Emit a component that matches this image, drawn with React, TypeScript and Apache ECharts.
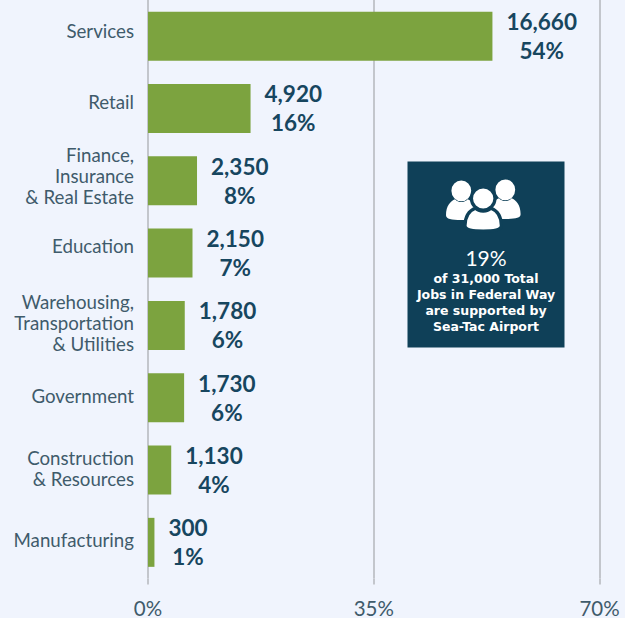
import React, { useEffect, useRef } from "react";
import * as echarts from "echarts";

const categories = [
  "Services",
  "Retail",
  "Finance,\nInsurance\n& Real Estate",
  "Education",
  "Warehousing,\nTransportation\n& Utilities",
  "Government",
  "Construction\n& Resources",
  "Manufacturing",
];
const labelLift = ["u5", "u6", "u5", "u7", "u2", "u2", "u2", "u2"];
const barShares = [53.4, 15.9, 7.6, 6.9, 5.7, 5.6, 3.6, 1.0];
const jobLabels = ["16,660", "4,920", "2,350", "2,150", "1,780", "1,730", "1,130", "300"];
const shareLabels = ["54%", "16%", "8%", "7%", "6%", "6%", "4%", "1%"];
const boxHeadline = "19%";
const boxLines = ["of 31,000 Total", "Jobs in Federal Way", "are supported by", "Sea-Tac Airport"];

const FONT = '"DejaVu Sans", sans-serif';
const LABEL_FONT = "Lato, sans-serif";
const DARK = "#17465f";
const BG = "#f0f4fd";
const LINE = "#c3c6cc";
const MUTED = "#3f5b6b";
const BOX = "#0f4058";

const PERSON =
  "M6 11a11 11 0 1 1 22 0a11 11 0 1 1 -22 0z M0 37C0 27 5 22 10 20C13 24 21 24 24 20C29 22 34 27 34 37C34 41 28 42 17 42C6 42 0 41 0 37Z";
echarts.graphic.registerShape("person", echarts.graphic.extendPath(PERSON, {}) as any);

const catText = { fontFamily: LABEL_FONT, fontSize: 18.7, lineHeight: 21, color: MUTED };
const spacer = (n: number) => ({ fontFamily: LABEL_FONT, fontSize: 1, lineHeight: n * 2, height: n * 2, color: MUTED });

export default function App() {
  const ref = useRef<HTMLDivElement>(null);
  useEffect(() => {
    const chart = echarts.init(ref.current!, null, { renderer: "svg" });
    const lineYs = [278, 294, 310, 326];
    chart.setOption({
      animation: false,
      backgroundColor: BG,
      grid: { left: 148, width: 451.5, top: -0.9, height: 579.5 },
      xAxis: {
        type: "value",
        min: 0,
        max: 70,
        interval: 35,
        axisLine: { show: false },
        axisTick: { show: true, length: 6, lineStyle: { color: LINE, width: 2 } },
        splitLine: { show: true, lineStyle: { color: LINE, width: 2 } },
        axisLabel: {
          margin: 20,
          fontFamily: LABEL_FONT,
          fontSize: 20.5,
          lineHeight: 18,
          color: MUTED,
          formatter: (v: number) => `${v}%`,
          showMinLabel: true,
          showMaxLabel: true,
          alignMinLabel: "center",
          alignMaxLabel: "center",
        },
      },
      yAxis: {
        type: "category",
        inverse: true,
        data: categories,
        axisLine: { show: false },
        axisTick: { show: false },
        splitLine: { show: false },
        axisLabel: {
          margin: 14,
          align: "right",
          interval: 0,
          ...catText,
          formatter: (v: string) => {
            const lift = labelLift[categories.indexOf(v)];
            const lines = v.split("\n").map((l) => `{n|${l}}`);
            return [...lines, `{${lift}| }`].join("\n");
          },
          rich: {
            n: catText,
            u2: spacer(2),
            u5: spacer(5),
            u6: spacer(6),
            u7: spacer(7),
          },
        },
      },
      series: [
        {
          type: "bar",
          data: barShares,
          barWidth: 49,
          itemStyle: { color: "#7ca33f" },
          z: 3,
          label: {
            show: true,
            position: "right",
            distance: 14,
            align: "left",
            color: DARK,
            formatter: (p: any) => `{a|${jobLabels[p.dataIndex]}}\n{a|${shareLabels[p.dataIndex]}}`,
            rich: {
              a: {
                align: "center",
                fontFamily: LABEL_FONT,
                fontWeight: "bold",
                fontSize: 22.5,
                lineHeight: 29,
                color: DARK,
              },
            },
          },
        },
      ],
      graphic: [
        {
          type: "rect",
          shape: { x: 407.5, y: 161.5, width: 157, height: 186 },
          style: { fill: BOX },
          z: 10,
        },
        { type: "person", x: 446, y: 180.5, scaleX: 0.9, scaleY: 0.94, style: { fill: "#fff" }, z: 11 } as any,
        { type: "person", x: 490, y: 179.5, scaleX: 0.9, scaleY: 0.94, style: { fill: "#fff" }, z: 11 } as any,
        {
          type: "person",
          x: 465,
          y: 187,
          scaleX: 1.07,
          scaleY: 1.05,
          style: { fill: "#fff", stroke: BOX, lineWidth: 3 },
          z: 12,
        } as any,
        {
          type: "text",
          x: 486,
          y: 257,
          style: {
            text: boxHeadline,
            fill: "#fff",
            font: `21px ${LABEL_FONT}`,
            align: "center",
            verticalAlign: "middle",
          },
          z: 12,
        },
        ...boxLines.map((t, i) => ({
          type: "text",
          x: 486,
          y: lineYs[i],
          style: {
            text: t,
            fill: "#fff",
            font: `bold 12.5px ${FONT}`,
            align: "center",
            verticalAlign: "middle",
          },
          z: 12,
        })),
      ],
    });
    return () => chart.dispose();
  }, []);
  return <div ref={ref} style={{ position: "fixed", left: 0, top: 0, width: 625, height: 618 }} />;
}
